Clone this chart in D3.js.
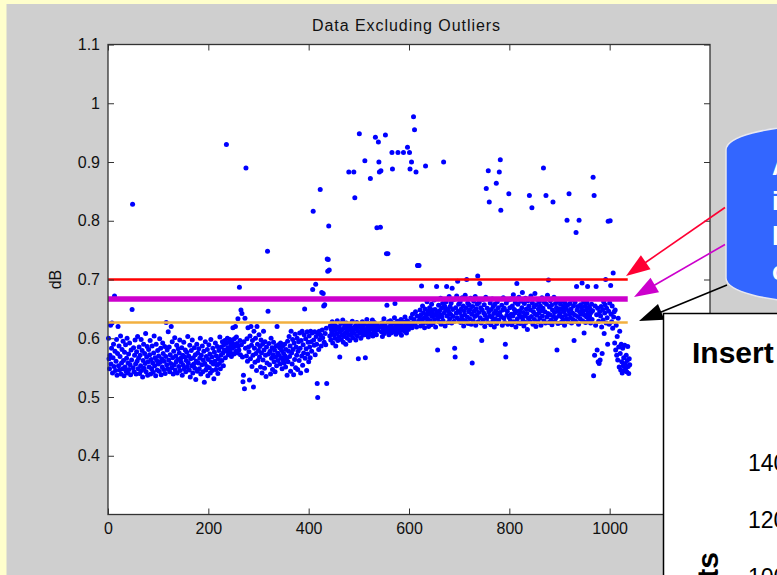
<!DOCTYPE html>
<html>
<head>
<meta charset="utf-8">
<script src="https://cdn.jsdelivr.net/npm/d3@7"></script>
<style>
  body { margin: 0; overflow: hidden; background: #ffffcc; }
  svg { display: block; }
</style>
</head>
<body>
<svg id="chart" width="777" height="575"></svg>
<script>
// ---- data ----
var xTicks = [0, 200, 400, 600, 800, 1000];
var yTicks = [0.4, 0.5, 0.6, 0.7, 0.8, 0.9, 1, 1.1];
var limits = [0.700, 0.667, 0.627];   // red, magenta, orange reference lines
var limitEnd = 1036;                  // sample where the lines stop
var calloutLetters = ["A", "i", "l", "c"];
var insetTicks = [140, 120, 100];

// one value per sample (sample number = index + 1)
var dB = [
  .600,.565,.548,.571,.622,.556,.583,.626,.541,.567,.590,.552,.672,.578,.545,.561,.598,.537,.574,.620,
  .553,.587,.546,.569,.604,.539,.558,.581,.548,.595,.562,.536,.576,.551,.589,.544,.566,.600,.541,.558,
  .573,.547,.592,.555,.538,.580,.563,.649,.828,.550,.584,.543,.571,.597,.556,.539,.577,.561,.603,.548,
  .566,.585,.540,.571,.553,.598,.545,.579,.534,.562,.590,.549,.574,.557,.608,.543,.568,.586,.537,.560,
  .581,.551,.572,.596,.539,.564,.548,.587,.558,.542,.575,.604,.553,.567,.536,.590,.562,.546,.579,.556,
  .570,.544,.599,.559,.583,.538,.565,.551,.592,.574,.547,.561,.586,.540,.569,.627,.555,.580,.548,.611,
  .563,.585,.543,.572,.557,.620,.550,.594,.567,.539,.578,.555,.601,.546,.570,.560,.588,.541,.564,.582,
  .552,.575,.597,.545,.566,.559,.584,.537,.571,.554,.593,.548,.568,.580,.543,.562,.576,.551,.603,.558,
  .570,.546,.588,.534,.565,.579,.553,.597,.541,.567,.556,.584,.549,.572,.530,.561,.590,.544,.575,.558,
  .582,.548,.566,.600,.539,.571,.555,.587,.543,.563,.578,.525,.557,.594,.546,.569,.552,.581,.536,.564,
  .589,.550,.573,.541,.598,.559,.568,.545,.583,.556,.531,.576,.561,.592,.547,.570,.554,.586,.540,.565,
  .579,.557,.602,.548,.571,.585,.562,.594,.575,.553,.589,.580,.596,.567,.591,.930,.578,.600,.584,.572,
  .593,.581,.598,.576,.588,.569,.595,.583,.618,.590,.573,.599,.586,.620,.578,.602,.591,.575,.633,.587,
  .580,.687,.596,.572,.648,.589,.642,.568,.526,.537,.594,.514,.634,.583,.890,.570,.599,.561,.618,.585,
  .577,.529,.604,.565,.620,.588,.552,.596,.571,.517,.612,.583,.559,.600,.574,.545,.620,.590,.562,.579,
  .606,.568,.586,.551,.597,.575,.541,.590,.563,.612,.580,.549,.594,.571,.535,.585,.558,.748,.646,.573,
  .591,.555,.578,.539,.600,.566,.584,.547,.572,.593,.560,.580,.543,.568,.587,.553,.620,.575,.562,.589,
  .571,.584,.556,.592,.567,.579,.548,.586,.563,.574,.558,.590,.570,.551,.581,.565,.537,.595,.560,.578,
  .603,.569,.587,.544,.612,.575,.556,.598,.581,.538,.592,.564,.607,.550,.585,.571,.600,.547,.578,.594,
  .562,.609,.583,.541,.596,.570,.612,.554,.589,.575,.606,.650,.566,.599,.582,.545,.611,.573,.593,.560,
  .604,.585,.567,.612,.594,.578,.609,.683,.816,.597,.588,.611,.572,.692,.603,.590,.523,.499,.608,.581,
  .612,.598,.853,.605,.587,.678,.614,.601,.676,.655,.593,.657,.608,.589,.617,.523,.735,.714,.734,.791,
  .716,.604,.621,.597,.615,.609,.628,.592,.618,.606,.624,.600,.613,.587,.620,.608,.630,.596,.616,.603,
  .619,.568,.611,.625,.598,.614,.606,.631,.593,.617,.603,.622,.609,.590,.626,.612,.600,.619,.607,.883,
  .615,.596,.624,.605,.618,.611,.629,.601,.614,.883,.608,.839,.621,.597,.616,.627,.604,.612,.565,.620,
  .948,.609,.623,.600,.617,.613,.628,.605,.619,.611,.624,.902,.567,.615,.606,.632,.610,.621,.602,.618,
  .613,.625,.872,.607,.620,.616,.631,.604,.622,.612,.627,.609,.942,.618,.606,.788,.623,.614,.934,.900,
  .883,.619,.789,.885,.611,.626,.603,.621,.615,.633,.608,.624,.946,.617,.744,.656,.612,.744,.628,.606,
  .620,.614,.630,.609,.623,.916,.888,.617,.626,.611,.635,.659,.619,.607,.625,.613,.629,.916,.616,.622,
  .610,.627,.618,.632,.605,.621,.614,.628,.916,.619,.612,.636,.617,.625,.609,.630,.925,.620,.615,.627,
  .916,.888,.622,.635,.900,.618,.641,.627,.977,.632,.955,.624,.645,.883,.619,.638,.724,.724,.629,.724,
  .636,.648,.621,.640,.689,.631,.655,.625,.643,.634,.618,.650,.893,.639,.627,.662,.633,.646,.620,.641,
  .652,.630,.644,.623,.658,.637,.648,.626,.641,.665,.632,.649,.619,.639,.688,.645,.580,.635,.656,.628,
  .647,.640,.668,.624,.651,.636,.659,.630,.900,.643,.655,.621,.648,.662,.688,.638,.650,.627,.645,.671,
  .633,.654,.641,.660,.626,.685,.649,.637,.666,.629,.583,.568,.652,.643,.672,.635,.697,.646,.658,.631,
  .644,.662,.627,.650,.638,.669,.632,.655,.621,.647,.640,.673,.629,.652,.700,.636,.660,.625,.645,.657,
  .633,.649,.668,.624,.641,.558,.654,.630,.663,.646,.637,.671,.622,.650,.639,.658,.706,.628,.644,.661,
  .693,.635,.652,.626,.596,.648,.666,.631,.643,.657,.620,.639,.670,.855,.634,.651,.627,.885,.645,.832,
  .638,.660,.623,.649,.636,.667,.629,.654,.642,.619,.658,.633,.647,.864,.625,.662,.640,.652,.631,.883,
  .644,.904,.818,.637,.656,.622,.648,.669,.634,.651,.627,.590,.568,.660,.639,.646,.624,.665,.846,.635,
  .652,.630,.667,.641,.623,.655,.638,.674,.628,.649,.643,.661,.619,.646,.693,.633,.658,.626,.670,.640,
  .647,.625,.663,.636,.652,.678,.631,.644,.621,.659,.638,.668,.627,.650,.642,.615,.664,.634,.655,.843,
  .629,.648,.672,.637,.822,.660,.624,.645,.653,.632,.676,.641,.620,.657,.639,.666,.628,.650,.643,.662,
  .634,.655,.622,.647,.669,.638,.651,.890,.630,.661,.645,.626,.843,.658,.636,.673,.642,.699,.627,.653,
  .640,.664,.631,.656,.623,.648,.832,.637,.670,.644,.629,.659,.635,.652,.580,.646,.625,.663,.638,.650,
  .642,.658,.627,.649,.636,.664,.631,.653,.645,.622,.660,.639,.651,.633,.801,.656,.628,.647,.846,.641,
  .659,.635,.650,.626,.666,.643,.632,.655,.596,.640,.661,.629,.780,.688,.648,.637,.654,.624,.801,.645,
  .633,.657,.641,.652,.694,.630,.646,.662,.609,.639,.655,.627,.648,.636,.660,.688,.643,.631,.653,.638,
  .650,.626,.644,.658,.632,.647,.874,.536,.843,.571,.655,.622,.688,.640,.580,.651,.560,.629,.557,.645,
  .563,.638,.654,.619,.574,.649,.631,.662,.608,.643,.657,.700,.626,.651,.635,.590,.799,.646,.624,.660,
  .800,.690,.641,.628,.655,.617,.711,.636,.645,.592,.648,.580,.622,.571,.603,.563,.634,.585,.551,.612,
  .574,.546,.590,.560,.541,.583,.553,.567,.545,.588,.557,.549,.571,.543,.562,.586,.552,.540,.565,.555
];

// ---- layout ----
var W = 777, H = 575;
var plot = {left: 108, right: 710, top: 44.5, bottom: 514.5};
var font = "'Liberation Sans', Arial, Helvetica, sans-serif";

var svg = d3.select("#chart");

var x = d3.scaleLinear().domain([0, 1200]).range([plot.left, plot.right]);
var y = d3.scaleLinear().domain([0.3, 1.1]).range([plot.bottom, plot.top]);

// figure background (grey panel on a yellow slide)
svg.append("rect").attr("width", W).attr("height", H).attr("fill", "#ffffcc");
svg.append("rect").attr("x", 6.5).attr("y", 4).attr("width", W).attr("height", H)
  .attr("fill", "#cfcfcf");

// axes area
svg.append("rect")
  .attr("x", plot.left).attr("y", plot.top)
  .attr("width", plot.right - plot.left).attr("height", plot.bottom - plot.top)
  .attr("fill", "#fff");

// scatter
svg.append("g").selectAll("circle")
  .data(dB)
  .enter().append("circle")
  .attr("cx", function(d, i) { return x(i + 1); })
  .attr("cy", function(d) { return y(d); })
  .attr("r", 2.5)
  .attr("fill", "#0000ff");

// reference lines drawn over the points
var limitStyle = [
  {color: "#ff0000", width: 2.5},
  {color: "#cc00cc", width: 5.5},
  {color: "#f2b040", width: 2.5}
];
svg.append("g").selectAll("line")
  .data(limits)
  .enter().append("line")
  .attr("x1", x(0)).attr("x2", x(limitEnd))
  .attr("y1", function(d) { return y(d); })
  .attr("y2", function(d) { return y(d); })
  .attr("stroke", function(d, i) { return limitStyle[i].color; })
  .attr("stroke-width", function(d, i) { return limitStyle[i].width; });

// axes, MATLAB style: ticks pointing in, box on
function styleAxis(g) {
  g.select(".domain").remove();
  g.selectAll(".tick line").attr("stroke", "#333");
  g.selectAll("text").attr("fill", "#111")
    .style("font-family", font).style("font-size", "16px");
}

svg.append("g").attr("transform", "translate(0," + plot.bottom + ")")
  .call(d3.axisBottom(x).tickValues(xTicks).tickSize(-6).tickPadding(8)
    .tickFormat(d3.format("d")))
  .call(styleAxis);
svg.append("g").attr("transform", "translate(0," + plot.top + ")")
  .call(d3.axisTop(x).tickValues(xTicks).tickSize(-6).tickFormat(""))
  .call(styleAxis);
svg.append("g").attr("transform", "translate(" + plot.left + ",0)")
  .call(d3.axisLeft(y).tickValues(yTicks).tickSize(-6).tickPadding(8)
    .tickFormat(function(d) { return d3.format("")(d); }))
  .call(styleAxis);
svg.append("g").attr("transform", "translate(" + plot.right + ",0)")
  .call(d3.axisRight(y).tickValues(yTicks).tickSize(-6).tickFormat(""))
  .call(styleAxis);

svg.append("rect")
  .attr("x", plot.left).attr("y", plot.top)
  .attr("width", plot.right - plot.left).attr("height", plot.bottom - plot.top)
  .attr("fill", "none").attr("stroke", "#333").attr("stroke-width", 1.3);

// title and y label
svg.append("text")
  .attr("x", 406).attr("y", 31)
  .attr("text-anchor", "middle")
  .attr("textLength", 188).attr("lengthAdjust", "spacing")
  .style("font-family", font).style("font-size", "16px").attr("fill", "#111")
  .text("Data Excluding Outliers");

svg.append("text")
  .attr("transform", "translate(61," + ((plot.top + plot.bottom) / 2) + ") rotate(-90)")
  .attr("text-anchor", "middle")
  .style("font-family", font).style("font-size", "16px").attr("fill", "#111")
  .text("dB");

// blue callout (cylinder shape, mostly off the right edge)
svg.append("path")
  .attr("d", "M726,150 A90,24 0 0,1 906,150 L906,278 A90,24 0 0,1 726,278 Z")
  .attr("fill", "#3366ff").attr("stroke", "#e8e8f0").attr("stroke-width", 1.5);

svg.append("g").selectAll("text")
  .data(calloutLetters)
  .enter().append("text")
  .attr("x", 772)
  .attr("y", function(d, i) { return 175 + i * 35; })
  .style("font-family", font).style("font-size", "25px").style("font-weight", "bold")
  .attr("fill", "#fff")
  .text(function(d) { return d; });

// arrows from the callout to the reference lines
function arrow(x1, y1, x2, y2, color) {
  var dx = x2 - x1, dy = y2 - y1, len = Math.sqrt(dx * dx + dy * dy);
  var ux = dx / len, uy = dy / len, hl = 24, hw = 8.5;
  var bx = x2 - ux * hl, by = y2 - uy * hl;
  svg.append("line")
    .attr("x1", x1).attr("y1", y1).attr("x2", bx + ux * 2).attr("y2", by + uy * 2)
    .attr("stroke", color).attr("stroke-width", 1.6);
  svg.append("path")
    .attr("d", "M" + x2 + "," + y2 +
      "L" + (bx - uy * hw) + "," + (by + ux * hw) +
      "L" + (bx + uy * hw) + "," + (by - ux * hw) + "Z")
    .attr("fill", color);
}
arrow(725, 207.5, 626, 276, "#ff0033");
arrow(725, 244.5, 634, 297, "#cc00cc");
arrow(727, 285, 639, 321, "#000");

// inset box that overlaps the chart
svg.append("rect")
  .attr("x", 663.5).attr("y", 313.5).attr("width", 130).attr("height", 280)
  .attr("fill", "#fff").attr("stroke", "#000").attr("stroke-width", 1.5);

svg.append("text")
  .attr("x", 692).attr("y", 363)
  .style("font-family", font).style("font-size", "30px").style("font-weight", "bold")
  .attr("fill", "#000")
  .text("Insert");

var insetY = d3.scaleLinear().domain([140, 100]).range([470.5, 584.5]);
svg.append("g").selectAll("text")
  .data(insetTicks)
  .enter().append("text")
  .attr("x", 748)
  .attr("y", function(d) { return insetY(d); })
  .style("font-family", font).style("font-size", "23px")
  .attr("fill", "#000")
  .text(function(d) { return d; });

svg.append("text")
  .attr("transform", "translate(718,552) rotate(-90)")
  .attr("text-anchor", "end")
  .style("font-family", font).style("font-size", "30px").style("font-weight", "bold")
  .attr("fill", "#000")
  .text("Counts");
</script>
</body>
</html>
